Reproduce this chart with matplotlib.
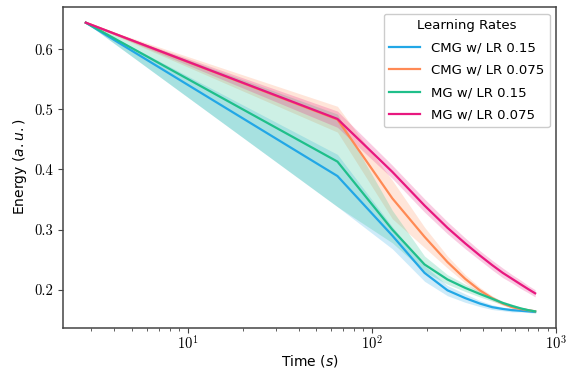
import matplotlib
matplotlib.use("Agg")
import matplotlib.pyplot as plt

# time points (s)
time = [2.8, 65, 129, 193, 257, 321, 385, 449, 513, 577, 641, 705, 769]

labels = ["CMG w/ LR 0.15", "CMG w/ LR 0.075", "MG w/ LR 0.15", "MG w/ LR 0.075"]
colors = ["#22a7e6", "#ff8a55", "#1fbf8a", "#e8187f"]

cmg_015 = [0.644, 0.389, 0.290, 0.228, 0.199, 0.186, 0.177, 0.171, 0.168, 0.166, 0.165, 0.164, 0.163]
cmg_015_lo = [0.644, 0.338, 0.268, 0.214, 0.190, 0.179, 0.172, 0.167, 0.165, 0.163, 0.163, 0.162, 0.161]
cmg_015_hi = [0.644, 0.425, 0.305, 0.240, 0.207, 0.193, 0.182, 0.175, 0.171, 0.169, 0.167, 0.166, 0.165]

cmg_0075 = [0.644, 0.483, 0.352, 0.288, 0.246, 0.218, 0.199, 0.186, 0.177, 0.171, 0.168, 0.166, 0.164]
cmg_0075_lo = [0.644, 0.462, 0.318, 0.270, 0.236, 0.211, 0.194, 0.182, 0.174, 0.169, 0.166, 0.164, 0.162]
cmg_0075_hi = [0.644, 0.505, 0.382, 0.304, 0.256, 0.225, 0.204, 0.190, 0.180, 0.173, 0.170, 0.168, 0.166]

mg_015 = [0.644, 0.413, 0.300, 0.242, 0.217, 0.203, 0.193, 0.185, 0.178, 0.173, 0.169, 0.166, 0.164]
mg_015_lo = [0.644, 0.338, 0.278, 0.230, 0.209, 0.197, 0.188, 0.181, 0.175, 0.170, 0.167, 0.164, 0.162]
mg_015_hi = [0.644, 0.492, 0.332, 0.256, 0.225, 0.209, 0.198, 0.189, 0.181, 0.176, 0.171, 0.168, 0.166]

mg_0075 = [0.644, 0.484, 0.396, 0.340, 0.303, 0.277, 0.257, 0.241, 0.228, 0.218, 0.209, 0.201, 0.194]
mg_0075_lo = [0.644, 0.470, 0.385, 0.329, 0.293, 0.268, 0.249, 0.233, 0.220, 0.211, 0.202, 0.195, 0.188]
mg_0075_hi = [0.644, 0.497, 0.407, 0.351, 0.313, 0.286, 0.265, 0.249, 0.236, 0.225, 0.216, 0.207, 0.200]

means = [cmg_015, cmg_0075, mg_015, mg_0075]
lows = [cmg_015_lo, cmg_0075_lo, mg_015_lo, mg_0075_lo]
highs = [cmg_015_hi, cmg_0075_hi, mg_015_hi, mg_0075_hi]

fig = plt.figure(figsize=(5.71, 3.71), dpi=100)
ax = fig.add_axes([0.110, 0.117, 0.864, 0.864])

for m, lo, hi, c, lab in zip(means, lows, highs, colors, labels):
    ax.fill_between(time, lo, hi, color=c, alpha=0.22, linewidth=0)
    ax.plot(time, m, color=c, lw=1.6, label=lab)

ax.set_xscale("log")
ax.set_xlim(2.1, 1000)
ax.set_ylim(0.137, 0.67)
ax.set_yticks([0.2, 0.3, 0.4, 0.5, 0.6])

for sp in ax.spines.values():
    sp.set_color("#444444")
    sp.set_linewidth(1.1)
ax.tick_params(which="both", color="#444444", labelsize=10.5)
ax.tick_params(axis="x", which="major", pad=1.5)
for t in ax.get_xticklabels() + ax.get_yticklabels():
    t.set_fontfamily("cmr10")

ax.set_xlabel(r"Time $\it{(s)}$", fontsize=10, labelpad=0)
ax.set_ylabel(r"Energy $\it{(a.u.)}$", fontsize=10)

leg = ax.legend(title="Learning Rates", loc="upper right", fontsize=9.5,
                title_fontsize=9.5, framealpha=1, edgecolor="#cccccc",
                labelspacing=0.72, handlelength=2.4)

fig.savefig("out.png", dpi=100)
